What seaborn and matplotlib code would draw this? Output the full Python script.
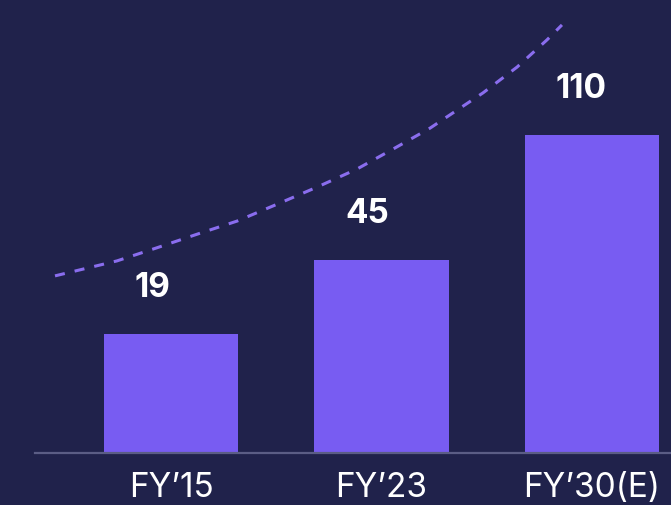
import numpy as np
import matplotlib
matplotlib.use("Agg")
import matplotlib.pyplot as plt
import seaborn as sns

categories = ["FY’15", "FY’23", "FY’30(E)"]
values = [19, 45, 110]
value_labels = ["19", "45", "110"]

# dashed trend curve (x in category units, y as fraction of plot height)
trend_x = [-0.551, -0.257, -0.067, 0.124, 0.314, 0.508, 0.694, 0.884, 1.055, 1.230, 1.482, 1.644, 1.786, 1.857]
trend_y = [0.391, 0.424, 0.453, 0.483, 0.512, 0.550, 0.587, 0.627, 0.671, 0.717, 0.795, 0.852, 0.912, 0.945]

BG = "#20224B"
BAR = "#785CF2"
LINE = "#8A6DEE"
BASE = "#5B5D85"
BAR_W = 0.637

sns.set_theme(style="white")
plt.rcParams["font.family"] = ["Inter", "DejaVu Sans"]

fig = plt.figure(figsize=(6.71, 5.05), dpi=100, facecolor=BG)
ax = fig.add_axes([35 / 671, 52 / 505, 636 / 671, 453 / 505])
ax.set_facecolor(BG)

sns.barplot(x=categories, y=values, color=BAR, saturation=1, width=BAR_W,
            linewidth=0, edgecolor=BAR, ax=ax)

p = 0.56
ax.set_yscale("function", functions=(lambda v: np.power(np.clip(v, 0, None), p),
                                     lambda v: np.power(np.clip(v, 0, None), 1 / p)))
ax.set_ylim(0, 207)
ax.set_xlim(-0.646, 2.375)

for i, (v, lab) in enumerate(zip(values, value_labels)):
    ax.annotate(lab, xy=(i - BAR_W / 2, v), xytext=(22, 27), textcoords="offset points",
                ha="left", va="baseline", color="white", fontsize=24, fontweight="bold")

for s in ["top", "right", "left"]:
    ax.spines[s].set_visible(False)
ax.spines["bottom"].set_color(BASE)
ax.spines["bottom"].set_linewidth(1.6)
ax.set_yticks([])
ax.set_ylabel("")
ax.set_xlabel("")
ax.tick_params(axis="x", length=0, pad=14, labelsize=24, labelcolor="white")

ax2 = ax.twinx()
ax2.set_ylim(0, 1)
ax2.plot(trend_x, trend_y, color=LINE, linewidth=2.2, dashes=(3.3, 3.3), solid_capstyle="butt")
ax2.axis("off")
ax2.set_xlim(-0.646, 2.375)

fig.savefig("out.png", dpi=100, facecolor=BG)
